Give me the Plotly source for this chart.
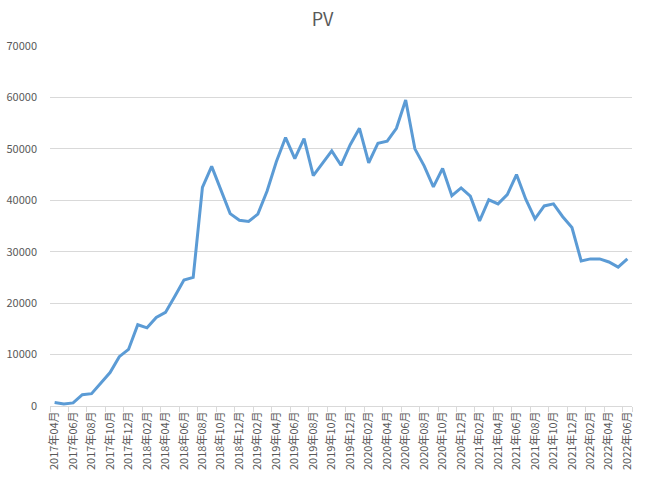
import plotly.graph_objects as go

# monthly PV, 2017-04 .. 2022-06
months = [f"{y}年{m:02d}月" for y in range(2017, 2023) for m in range(1, 13)]
months = months[months.index("2017年04月"):months.index("2022年06月") + 1]

pv = [
    700, 400, 600, 2200, 2400, 4400, 6500, 9600, 11000,
    15800, 15200, 17200, 18200, 21300, 24500, 25000, 42500, 46600, 42000, 37400, 36100,
    35900, 37300, 41800, 47500, 52200, 48100, 52000, 44800, 47300, 49600, 46800, 50800,
    54000, 47300, 51100, 51500, 54000, 59500, 50000, 46700, 42600, 46200, 40900, 42400,
    40800, 36000, 40100, 39300, 41100, 45000, 40200, 36400, 38900, 39300, 36800, 34700,
    28200, 28600, 28600, 28000, 27000, 28600,
]

label_font = "Noto Sans CJK SC, Liberation Sans, sans-serif"

fig = go.Figure(
    go.Scatter(
        x=months,
        y=pv,
        mode="lines",
        line=dict(color="#5b9bd5", width=3),
        name="PV",
    )
)

fig.update_layout(
    width=645,
    height=482,
    margin=dict(l=50, r=13, t=46, b=76),
    paper_bgcolor="white",
    plot_bgcolor="white",
    showlegend=False,
    font=dict(family=label_font, size=11, color="#595959"),
    title=dict(
        text="PV",
        x=0.5,
        xanchor="center",
        y=0.96,
        yanchor="middle",
        yref="container",
        font=dict(size=18, color="#595959"),
    ),
    xaxis=dict(
        type="category",
        categoryorder="array",
        categoryarray=months,
        tickmode="array",
        tickvals=months[::2],
        tickangle=-90,
        tickson="boundaries",
        ticks="outside",
        ticklen=5,
        tickcolor="#d9d9d9",
        showgrid=False,
        showline=True,
        linecolor="#d9d9d9",
        range=[-0.5, len(months) - 0.5],
        automargin=False,
    ),
    yaxis=dict(
        range=[0, 70000],
        dtick=10000,
        tickformat="d",
        showgrid=True,
        gridcolor="#d9d9d9",
        zeroline=False,
        showline=False,
        ticks="",
        ticklabelstandoff=12,
        automargin=False,
    ),
)

# drop the browser's default body margin so the figure sits at the page corner
fig.write_html(
    "out.html",
    config={"displayModeBar": False},
    post_script="document.body.style.margin='0';",
)
